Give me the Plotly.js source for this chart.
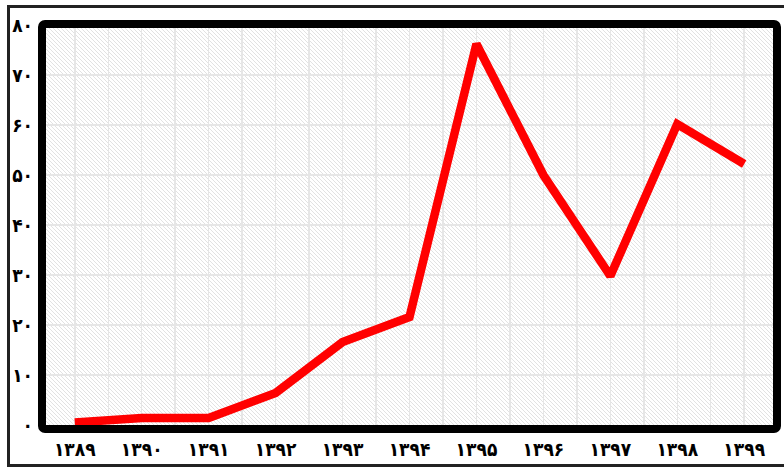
<!DOCTYPE html>
<html>
<head>
<meta charset="utf-8">
<script src="https://cdn.plot.ly/plotly-3.0.1.min.js"></script>
<style>
  html, body { margin: 0; padding: 0; background: #ffffff; }
  #wrap { position: relative; width: 784px; height: 471px; overflow: hidden; background: #fff; }
  #outer { position: absolute; left: 7px; top: 5px; width: 800px; height: 462px; border: 3px solid #222; box-sizing: border-box; z-index: 0; }
  #hatch { position: absolute; left: 46px; top: 25px; width: 727px; height: 400px; z-index: 1;
    background-color: #ffffff;
    background-image: url("data:image/svg+xml;utf8,<svg xmlns='http://www.w3.org/2000/svg' width='4' height='4'><path d='M-1,-1 L5,5 M-1,3 L1,5 M3,-1 L5,1' stroke='%23e2e2e2' stroke-width='1'/></svg>");
    background-repeat: repeat; }
  #chart { position: absolute; left: 0; top: 0; width: 784px; height: 471px; z-index: 2; }
  #frame { position: absolute; left: 38px; top: 20px; width: 743px; height: 413px; border: 8px solid #000; border-radius: 7px; box-sizing: border-box; z-index: 3; pointer-events: none; }
</style>
</head>
<body>
<div id="wrap">
  <div id="outer"></div>
  <div id="hatch"></div>
  <div id="chart"></div>
  <div id="frame"></div>
</div>
<script>
const years = [1389, 1390, 1391, 1392, 1393, 1394, 1395, 1396, 1397, 1398, 1399];
const values = [0.5, 1.4, 1.4, 6.4, 16.6, 21.6, 76.2, 50, 29.8, 60.2, 52.2];
const xTickLabels = ['۱۳۸۹', '۱۳۹۰', '۱۳۹۱', '۱۳۹۲', '۱۳۹۳', '۱۳۹۴', '۱۳۹۵', '۱۳۹۶', '۱۳۹۷', '۱۳۹۸', '۱۳۹۹'];
const yTickVals = [0, 10, 20, 30, 40, 50, 60, 70, 80];
const yTickLabels = ['۰', '۱۰', '۲۰', '۳۰', '۴۰', '۵۰', '۶۰', '۷۰', '۸۰'];

const trace = {
  x: years,
  y: values,
  type: 'scatter',
  mode: 'lines',
  line: { color: '#ff0000', width: 8.5 },
  hoverinfo: 'skip'
};

const tickFont = { family: 'DejaVu Sans Condensed, DejaVu Sans', size: 19, color: '#000', weight: 'bold' };

const layout = {
  width: 784,
  height: 471,
  margin: { l: 46, r: 11, t: 25, b: 46 },
  paper_bgcolor: 'rgba(0,0,0,0)',
  plot_bgcolor: 'rgba(0,0,0,0)',
  showlegend: false,
  xaxis: {
    range: [1388.57, 1399.43],
    tickmode: 'array',
    tickvals: years,
    ticktext: xTickLabels,
    tickfont: tickFont,
    showgrid: true,
    gridcolor: '#e6e6e6',
    gridwidth: 1.5,
    minor: { dtick: 0.5, tick0: 1389, showgrid: true, gridcolor: '#e6e6e6', gridwidth: 1.5 },
    zeroline: false,
    showline: false,
    ticks: '',
    ticklabelstandoff: 11,
    fixedrange: true
  },
  yaxis: {
    range: [0, 80],
    tickmode: 'array',
    tickvals: yTickVals,
    ticktext: yTickLabels,
    tickfont: tickFont,
    showgrid: true,
    gridcolor: '#e6e6e6',
    gridwidth: 1.5,
    zeroline: false,
    showline: false,
    ticks: '',
    ticklabelstandoff: 12,
    fixedrange: true
  }
};

Plotly.newPlot('chart', [trace], layout, { displayModeBar: false, staticPlot: true });
</script>
</body>
</html>
